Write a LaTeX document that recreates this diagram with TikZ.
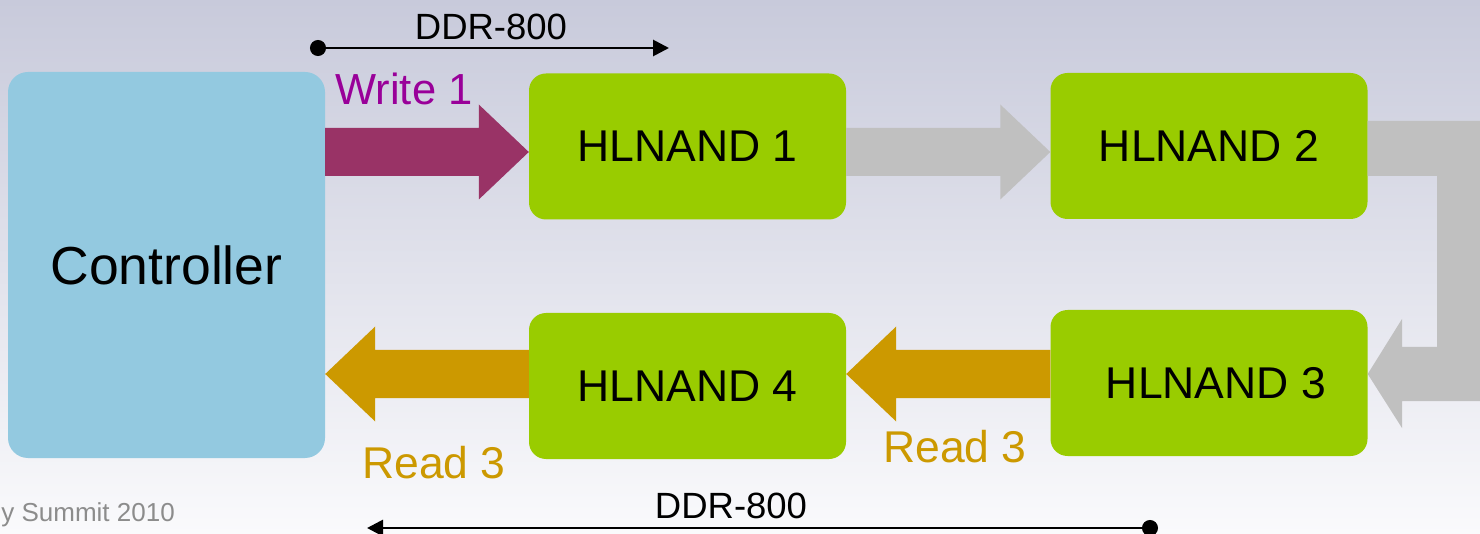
\documentclass[tikz,border=0pt]{standalone}
\usepackage{fontspec}
\setmainfont{Liberation Sans}
\usetikzlibrary{arrows.meta,calc}
\definecolor{ctrlblue}{HTML}{93C9E0}
\definecolor{nandgreen}{HTML}{99CC00}
\definecolor{wine}{HTML}{993366}
\definecolor{writepurple}{HTML}{990099}
\definecolor{readgold}{HTML}{CC9900}
\definecolor{flowgray}{HTML}{C0C0C0}
\definecolor{footgray}{HTML}{8C8C8C}
\definecolor{bgtop}{HTML}{C8CADB}
\definecolor{bgbot}{HTML}{FAFAFC}
\tikzset{
  fs/.style={font=\fontsize{#1}{#1}\selectfont},
  chip/.style={fill=nandgreen, rounded corners=17pt, minimum width=317pt, minimum height=146pt, inner sep=0pt, fs=44.5},
  ctrlbox/.style={fill=ctrlblue, rounded corners=20pt, minimum width=317pt, minimum height=386pt, inner sep=0pt, fs=53.5},
  lbl/.style={inner sep=0pt, anchor=base},
  ddr/.style={line width=2.8pt, {Circle[length=16pt]}-{Triangle[length=16pt,width=16pt]}},
}
\newcommand{\blockarr}[4]{% #1 start, #2 tip, #3 colour, #4 direction (1 right, -1 left)
  \fill[#3] ($(#1)+(0,-24)$) -- ($(#2)+({-50*#4},-24)$) -- ($(#2)+({-50*#4},-47.5)$) -- (#2)
    -- ($(#2)+({-50*#4},47.5)$) -- ($(#2)+({-50*#4},24)$) -- ($(#1)+(0,24)$) -- cycle;}
\begin{document}
\begin{tikzpicture}[x=1pt,y=-1pt]
\useasboundingbox (0,0) rectangle (1480,534);
\shade[top color=bgtop, bottom color=bgbot] (0,0) rectangle (1480,534);
\begin{scope}
\clip (0,0) rectangle (1480,534);
% nodes
\node[ctrlbox] (ctrl) at (166.5,265) {Controller};
\node[chip] (h1) at (687.5,146.5) {HLNAND 1};
\node[chip] (h2) at (1209,146) {HLNAND 2};
\node[chip] (h3) at (1209,383) {\hspace{14pt}HLNAND 3};
\node[chip] (h4) at (687.5,386) {HLNAND 4};
% arrow rows
\coordinate (wy) at (0,152);
\coordinate (ry) at (0,374);
\blockarr{ctrl.east |- wy}{h1.west |- wy}{wine}{1}
\blockarr{h1.east |- wy}{h2.west |- wy}{flowgray}{1}
\blockarr{h4.west |- ry}{ctrl.east |- ry}{readgold}{-1}
\blockarr{h3.west |- ry}{h4.east |- ry}{readgold}{-1}
% bent arrow from HLNAND 2 to HLNAND 3
\fill[flowgray] (h2.east |- 0,121) -- (1495,121) -- (1495,401) -- (1402,401) -- (1402,428)
  -- (h3.east |- ry) -- (1402,319) -- (1402,347) -- (1437,347) -- (1437,176)
  -- (h2.east |- 0,176) -- cycle;
% labels
\node[lbl, fs=43.5, text=writepurple] (w1) at (404,105) {Write 1};
\node[lbl, fs=44.5, text=readgold] (r1) at (955,462) {Read 3};
\node[lbl, fs=44.5, text=readgold] (r2) at (434,478) {Read 3};
\node[lbl, fs=36.5] (dt) at (491,40) {DDR-800};
\node[lbl, fs=36.5] (db) at (731,518) {DDR-800};
\node[inner sep=0pt, anchor=base east, fs=26, text=footgray] (foot) at (175,521) {y Summit 2010};
% DDR-800 timing arrows
\coordinate (dta) at (310,48);
\coordinate (dtb) at (669,48);
\coordinate (dba) at (1158,528);
\coordinate (dbb) at (367,528);
\draw[ddr] (dta) -- (dtb);
\draw[ddr] (dba) -- (dbb);
\end{scope}
\end{tikzpicture}
\end{document}
